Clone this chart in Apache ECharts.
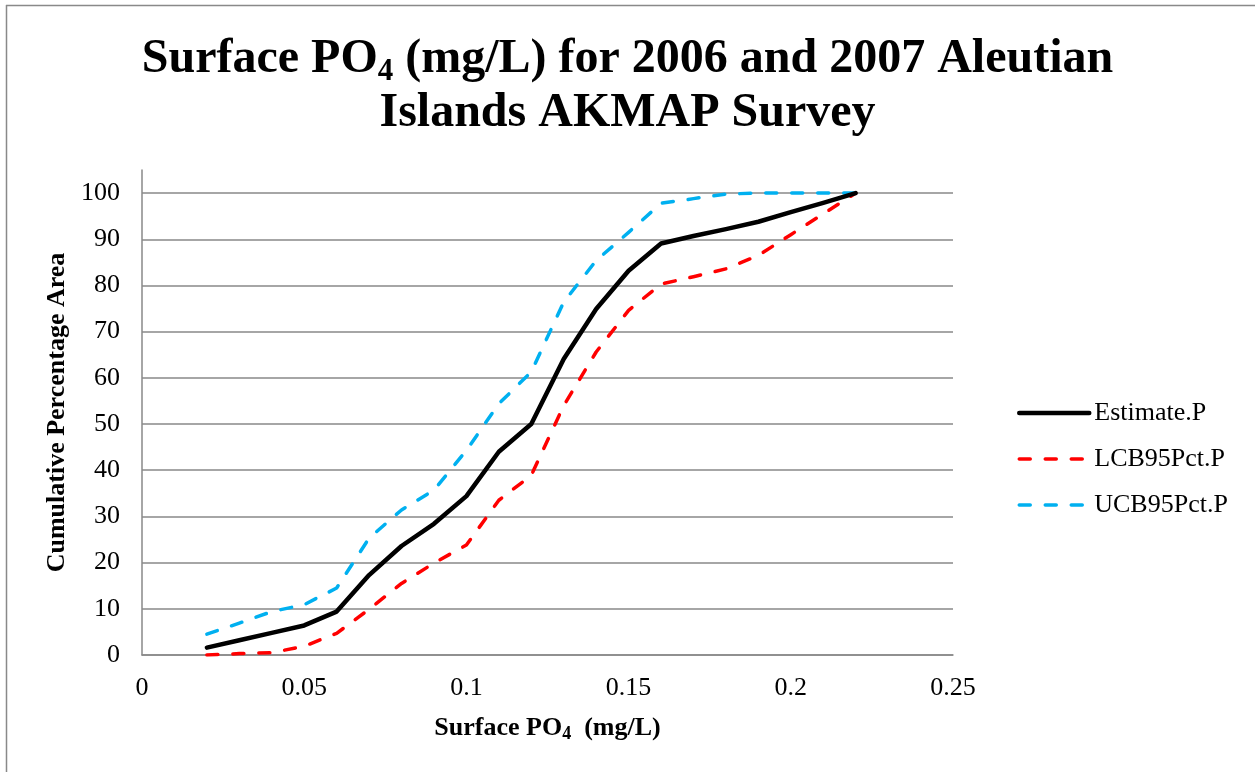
<!DOCTYPE html>
<html>
<head>
<meta charset="utf-8">
<script src="https://cdn.jsdelivr.net/npm/echarts@6/dist/echarts.min.js"></script>
<style>html,body{margin:0;padding:0;background:#fff;}#c{width:1255px;height:772px;}</style>
</head>
<body>
<div id="c"></div>
<script>
var xValues = [0.02, 0.03, 0.04, 0.05, 0.06, 0.07, 0.08, 0.09, 0.10, 0.11, 0.12, 0.13, 0.14, 0.15, 0.16, 0.17, 0.18, 0.19, 0.20, 0.21, 0.22];
var estimateP = [1.6, 3.2, 4.8, 6.4, 9.4, 17.3, 23.6, 28.4, 34.4, 44.0, 50.0, 64.1, 74.9, 83.2, 89.1, 90.7, 92.2, 93.8, 95.9, 97.9, 100];
var lcb95P =    [0.0, 0.3, 0.5, 1.9, 4.7, 9.9, 15.5, 19.9, 23.8, 33.5, 38.9, 54.0, 65.6, 74.6, 80.3, 81.9, 83.6, 86.5, 91.0, 95.5, 100];
var ucb95P =    [4.5, 6.9, 9.4, 10.9, 14.5, 25.3, 31.4, 35.7, 44.3, 54.4, 61.3, 76.4, 85.4, 91.5, 97.8, 98.8, 99.8, 100, 100, 100, 100];
var seriesNames = ['Estimate.P', 'LCB95Pct.P', 'UCB95Pct.P'];
var xTicks = [0, 0.05, 0.1, 0.15, 0.2, 0.25];

function pairs(ys) { return xValues.map(function (x, i) { return [x, ys[i]]; }); }

var serif = 'Liberation Serif, Times New Roman, serif';
var chart = echarts.init(document.getElementById('c'), null, {renderer: 'canvas'});
chart.setOption({
  animation: false,
  backgroundColor: '#fff',
  title: {
    left: 'center',
    top: 28,
    text: '{a|Surface PO}{sub|4}{a| (mg/L) for 2006 and 2007 Aleutian}\n{a|Islands AKMAP Survey}',
    textStyle: {
      rich: {
        a: {fontFamily: serif, fontWeight: 'bold', fontSize: 48, color: '#000', lineHeight: 54},
        sub: {fontFamily: serif, fontWeight: 'bold', fontSize: 31, color: '#000', lineHeight: 54, verticalAlign: 'bottom', padding: [24, 0, 0, 0]}
      }
    }
  },
  grid: {left: 142, right: 302, top: 170, bottom: 117, containLabel: false},
  legend: {
    orient: 'vertical',
    left: 1012,
    top: 395,
    itemWidth: 70,
    itemHeight: 14,
    itemGap: 20,
    itemStyle: {opacity: 0},
    lineStyle: {width: 'inherit', type: 'inherit', cap: 'round'},
    textStyle: {fontFamily: serif, fontSize: 26, color: '#000'},
    data: seriesNames
  },
  xAxis: {
    type: 'value',
    min: 0, max: 0.25, interval: 0.05,
    name: '{a|Surface PO}{sub|4}{a|  (mg/L)}',
    nameLocation: 'middle',
    nameGap: 58,
    nameTextStyle: {
      rich: {
        a: {fontFamily: serif, fontWeight: 'bold', fontSize: 26, color: '#000', lineHeight: 30},
        sub: {fontFamily: serif, fontWeight: 'bold', fontSize: 18, color: '#000', lineHeight: 30, verticalAlign: 'bottom', padding: [12, 0, 0, 0]}
      }
    },
    axisLine: {show: true, lineStyle: {color: '#898989', width: 1.5}},
    axisTick: {show: false},
    splitLine: {show: false},
    axisLabel: {
      fontFamily: serif, fontSize: 26, color: '#000', margin: 20,
      formatter: function (v) { return xTicks.indexOf(Math.round(v * 100) / 100) >= 0 ? String(Math.round(v * 100) / 100) : ''; }
    }
  },
  yAxis: {
    type: 'value',
    min: 0, max: 105, interval: 10,
    name: 'Cumulative Percentage Area',
    nameLocation: 'middle',
    nameGap: 72,
    nameTextStyle: {fontFamily: serif, fontWeight: 'bold', fontSize: 26, color: '#000'},
    axisLine: {show: true, lineStyle: {color: '#898989', width: 1.5}},
    axisTick: {show: false},
    splitLine: {show: true, showMaxLine: false, lineStyle: {color: '#898989', width: 1.5}},
    axisLabel: {
      fontFamily: serif, fontSize: 26, color: '#000', margin: 22, showMaxLabel: false,
      formatter: function (v) { return v > 100 ? '' : String(v); }
    }
  },
  graphic: [
    {type: 'line', shape: {x1: 6.5, y1: 5, x2: 6.5, y2: 772}, style: {stroke: '#898989', lineWidth: 1.5}, silent: true},
    {type: 'line', shape: {x1: 6, y1: 5.5, x2: 1255, y2: 5.5}, style: {stroke: '#898989', lineWidth: 1.5}, silent: true}
  ],
  series: [
    {name: seriesNames[0], type: 'line', data: pairs(estimateP), symbol: 'none', z: 3,
     lineStyle: {color: '#000', width: 4.5, cap: 'round', join: 'round'}, itemStyle: {color: '#000'}},
    {name: seriesNames[1], type: 'line', data: pairs(lcb95P), symbol: 'none', z: 2,
     lineStyle: {color: '#FF0000', width: 3.5, type: [11, 15], cap: 'round', join: 'round'}, itemStyle: {color: '#FF0000'}},
    {name: seriesNames[2], type: 'line', data: pairs(ucb95P), symbol: 'none', z: 2,
     lineStyle: {color: '#00B0F0', width: 3.5, type: [11, 15], cap: 'round', join: 'round'}, itemStyle: {color: '#00B0F0'}}
  ]
});
</script>
</body>
</html>
